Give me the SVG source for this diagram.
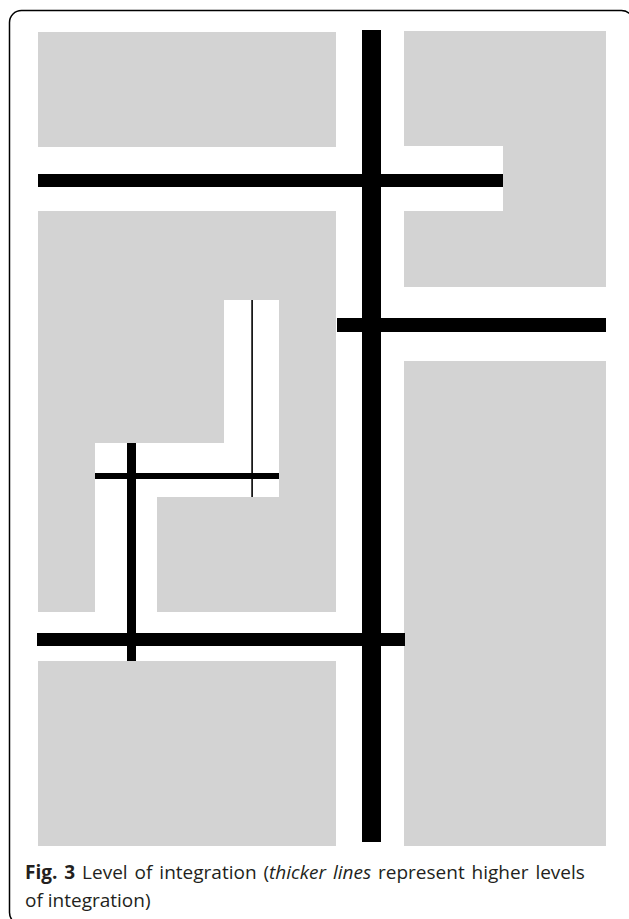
<svg xmlns="http://www.w3.org/2000/svg" width="629" height="919" viewBox="0 0 629 919">
<style>
.blk{fill:#d3d3d3;}
.ln{fill:#000;}
.cap{font-family:"Open Sans","Noto Sans",sans-serif;font-size:19px;fill:#231f20;}
</style>
<rect width="629" height="919" fill="#fff"/>
<rect x="9.5" y="10.5" width="624" height="914" rx="12" ry="12" fill="none" stroke="#000" stroke-width="1.5"/>
<g id="block-top-left"><rect class="blk" x="38" y="32" width="298" height="115"/></g>
<g id="block-top-right"><path class="blk" d="M404 31H606V287H503V287H404V211H503V146H404Z"/></g>
<g id="block-mid-left"><rect class="blk" x="38" y="211" width="57" height="401"/></g>
<g id="block-mid-a"><rect class="blk" x="95" y="211" width="129" height="232"/></g>
<g id="block-mid-b"><path class="blk" d="M224 211H336V497H279V300H224Z"/></g>
<g id="block-mid-c"><rect class="blk" x="157" y="497" width="179" height="115"/></g>
<g id="block-bottom-left"><rect class="blk" x="38" y="661" width="298" height="185"/></g>
<g id="block-right"><rect class="blk" x="404" y="361" width="202" height="485"/></g>
<g id="connectors">
<rect class="ln" x="362" y="30" width="19" height="812"/>
<rect class="ln" x="38" y="174" width="465" height="13"/>
<rect class="ln" x="337" y="318" width="269" height="14"/>
<rect class="ln" x="37" y="633" width="368" height="13"/>
<rect class="ln" x="127" y="443" width="9" height="218"/>
<rect class="ln" x="95" y="473" width="184" height="6"/>
<rect class="ln" x="251.3" y="300" width="1.6" height="197"/>
</g>
<g id="caption">
<text class="cap" x="25" y="879" word-spacing="2"><tspan font-weight="bold">Fig. 3</tspan> Level of integration (<tspan font-style="italic">thicker lines</tspan> represent higher levels</text>
<text class="cap" x="25" y="907">of integration)</text>
</g>
</svg>
